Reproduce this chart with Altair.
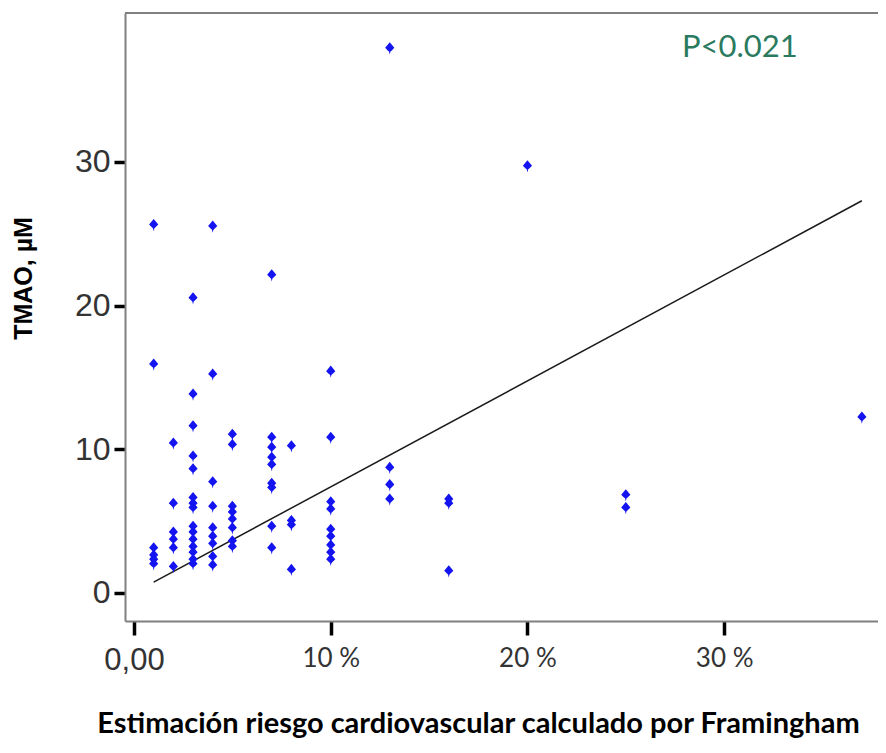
import altair as alt
import pandas as pd

# Framingham risk (%) and TMAO (µM)
risk_pct = (
    [1] * 6
    + [2] * 6
    + [3] * 15
    + [4] * 9
    + [5] * 8
    + [7] * 9
    + [8] * 4
    + [10] * 9
    + [13] * 4
    + [16] * 3
    + [20]
    + [25] * 2
    + [37]
)
tmao = (
    [25.6, 15.9, 3.1, 2.6, 2.3, 2.0]
    + [10.4, 6.2, 4.2, 3.7, 3.1, 1.8]
    + [20.5, 13.8, 11.6, 9.5, 8.6, 6.6, 6.2, 5.9, 4.6, 4.2, 3.7, 3.2, 2.8, 2.3, 2.0]
    + [25.5, 15.2, 7.7, 6.0, 4.5, 3.9, 3.4, 2.5, 1.9]
    + [11.0, 10.3, 6.0, 5.6, 5.1, 4.5, 3.6, 3.2]
    + [22.1, 10.8, 10.1, 9.4, 8.9, 7.6, 7.3, 4.6, 3.1]
    + [10.2, 5.0, 4.7, 1.6]
    + [15.4, 10.8, 6.3, 5.8, 4.4, 3.9, 3.3, 2.8, 2.3]
    + [37.9, 8.7, 7.5, 6.5]
    + [6.5, 6.2, 1.5]
    + [29.7]
    + [6.8, 5.9]
    + [12.2]
)

fit_x = [1, 37]
fit_y = [0.75, 27.3]

note_text = ["P<0.021"]
note_x = [30.8]
note_y = [37.9]

x_ticks = [0, 10, 20, 30]
y_ticks = [0, 10, 20, 30]

pts = pd.DataFrame({"risk": risk_pct, "tmao": tmao})
fit = pd.DataFrame({"risk": fit_x, "tmao": fit_y})
note = pd.DataFrame({"risk": note_x, "tmao": note_y, "txt": note_text})

W, H = 753, 608
xs = alt.Scale(domain=[-0.458, 37.82], nice=False, zero=False)
ys = alt.Scale(domain=[-1.95, 40.37], nice=False, zero=False)

x_axis = alt.Axis(
    values=x_ticks,
    labelExpr="datum.value == 0 ? '0,00' : datum.value + ' %'",
    title="Estimación riesgo cardiovascular calculado por Framingham",
    grid=False,
    domainColor="#808080",
    domainWidth=2,
    tickColor="black",
    tickWidth=3.5,
    tickSize=14,
    labelFont={"condition": {"test": "datum.value == 0", "value": "Liberation Sans"}, "value": "Lato"},
    labelFontSize={"condition": {"test": "datum.value == 0", "value": 31}, "value": 26},
    labelColor="#333333",
    labelPadding=10,
    titleFont="Lato",
    titleFontWeight="bold",
    titleFontSize=29,
    titleColor="black",
    titleX=353,
    titleY=111,
    titleBaseline="alphabetic",
    titleAnchor="middle",
)

y_axis = alt.Axis(
    values=y_ticks,
    title="TMAO, µM",
    grid=False,
    domainColor="#808080",
    domainWidth=2,
    tickColor="black",
    tickWidth=3.5,
    tickSize=11,
    labelFont="Liberation Sans",
    labelFontSize=32,
    labelColor="#333333",
    labelPadding=4,
    titleFont="Liberation Sans",
    titleFontWeight="bold",
    titleFontSize=25,
    titleColor="black",
    titleAngle=270,
    titleX=-102,
    titleY=265,
    titleAlign="center",
    titleBaseline="middle",
)

marker = (
    "M0,-1 L0.75,-0.1 L0.3,0.35 L0.12,0.5 L0,1 "
    "L-0.12,0.5 L-0.3,0.35 L-0.75,-0.1 Z"
)

points = alt.Chart(pts).mark_point(
    shape=marker, filled=True, color="#1414f0", size=150, opacity=1
).encode(
    x=alt.X("risk:Q", scale=xs, axis=x_axis),
    y=alt.Y("tmao:Q", scale=ys, axis=y_axis),
)

line = alt.Chart(fit).mark_line(color="#1a1a1a", strokeWidth=1.5).encode(
    x=alt.X("risk:Q", scale=xs),
    y=alt.Y("tmao:Q", scale=ys),
)

text = alt.Chart(note).mark_text(
    font="Lato", fontSize=31, color="#2a7a60", align="center", baseline="middle"
).encode(
    x=alt.X("risk:Q", scale=xs),
    y=alt.Y("tmao:Q", scale=ys),
    text="txt:N",
)

top_border = alt.Chart(note).mark_rule(color="#808080", strokeWidth=2).encode(
    x=alt.value(0), x2=alt.value(W), y=alt.value(0)
)

chart = (
    alt.layer(top_border, line, points, text)
    .properties(
        width=W,
        height=H,
        autosize=alt.AutoSizeParams(type="none"),
        padding={"left": 117, "top": 5, "right": 0, "bottom": 120},
        background="white",
    )
    .configure_view(stroke=None)
)

chart.save("out.html", embed_options={"renderer": "svg", "actions": False})
